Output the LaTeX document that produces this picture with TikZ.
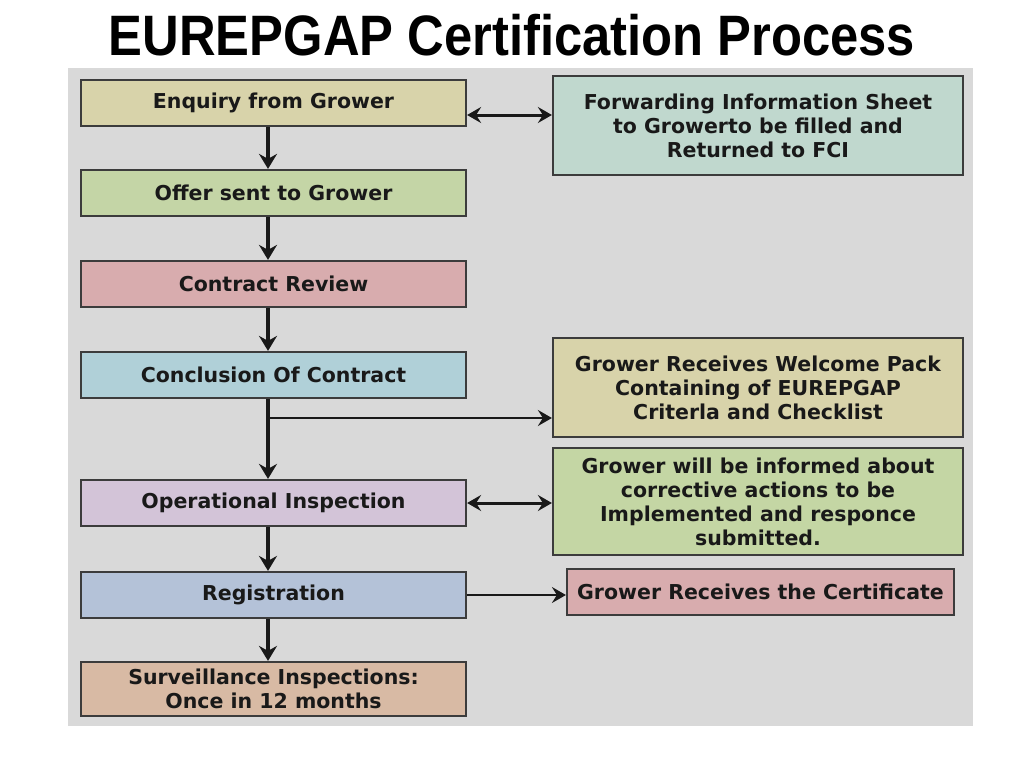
\documentclass[tikz,border=0pt]{standalone}
\usepackage{fontspec}
\setmainfont{DejaVu Sans}
\newfontfamily\titlefont{Liberation Sans}
\usetikzlibrary{arrows.meta}
\definecolor{bgc}{RGB}{217,217,217}
\definecolor{bordc}{RGB}{60,60,60}
\definecolor{cTan}{RGB}{216,211,170}
\definecolor{cTeal}{RGB}{192,216,206}
\definecolor{cGreen}{RGB}{196,213,166}
\definecolor{cPink}{RGB}{216,172,174}
\definecolor{cBlue}{RGB}{176,208,216}
\definecolor{cLav}{RGB}{211,196,216}
\definecolor{cSlate}{RGB}{180,194,216}
\definecolor{cPeach}{RGB}{216,186,164}
\definecolor{cGreenB}{RGB}{196,214,164}
\definecolor{inkc}{RGB}{25,25,25}
\begin{document}
\begin{tikzpicture}[x=1pt,y=-1pt,
  box/.style={draw=bordc, line width=2.2pt, font=\bfseries\fontsize{20.5}{24}\selectfont, text=inkc, inner sep=0pt, align=center},
  lbox/.style={box, minimum width=385pt, minimum height=46pt},
  rbox/.style={box, minimum width=410pt},
  arr/.style={-{Stealth[length=15pt,width=18pt,inset=5pt]}, line width=3.2pt, draw=inkc},
  arrthin/.style={-{Stealth[length=14pt,width=16pt,inset=5pt]}, line width=2.6pt, draw=inkc},
  dbl/.style={{Stealth[length=14pt,width=16pt,inset=5pt]}-{Stealth[length=14pt,width=16pt,inset=5pt]}, line width=3pt, draw=inkc}]
\useasboundingbox (0,0) rectangle (1024,768);
\fill[bgc] (68,68) rectangle (973,726);
\node[anchor=base, inner sep=0pt, font=\titlefont\bfseries\fontsize{57}{60}\selectfont] (title) at (512,56) {\scalebox{0.89}[1]{EUREPGAP Certification Process}};
% left column
\node[lbox, fill=cTan] (enq) at (273.5,103) {Enquiry from Grower};
\node[lbox, fill=cGreen] (offer) at (273.5,193) {Offer sent to Grower};
\node[lbox, fill=cPink] (rev) at (273.5,284) {Contract Review};
\node[lbox, fill=cBlue] (conc) at (273.5,375) {Conclusion Of Contract};
\node[lbox, fill=cLav] (op) at (273.5,503) {Operational Inspection};
\node[lbox, fill=cSlate] (reg) at (273.5,595) {Registration};
\node[lbox, fill=cPeach, minimum height=54pt] (surv) at (273.5,689) {Surveillance Inspections:\\Once in 12 months};
% right column
\node[rbox, fill=cTeal, minimum height=99pt] (fwd) at (758,125.5) {Forwarding Information Sheet\\to Growerto be filled and\\Returned to FCI};
\node[rbox, fill=cTan, minimum height=99pt] (wel) at (758,387.5) {Grower Receives Welcome Pack\\Containing of EUREPGAP\\Criterla and Checklist};
\node[rbox, fill=cGreenB, minimum height=107pt] (inf) at (758,501.5) {Grower will be informed about\\corrective actions to be\\Implemented and responce\\submitted.};
\node[box, fill=cPink, minimum width=387pt, minimum height=46pt] (cert) at (760.5,592) {Grower Receives the Certificate};
% connectors
\coordinate (spine) at (268,0);
\draw[arr] (enq.south -| spine) -- (offer.north -| spine);
\draw[arr] (offer.south -| spine) -- (rev.north -| spine);
\draw[arr] (rev.south -| spine) -- (conc.north -| spine);
\draw[arr] (conc.south -| spine) -- (op.north -| spine);
\draw[arr] (op.south -| spine) -- (reg.north -| spine);
\draw[arr] (reg.south -| spine) -- (surv.north -| spine);
\draw[arrthin] ([yshift=-30.5pt]wel.west -| spine) -- ([yshift=-30.5pt]wel.west);
\draw[dbl] ([yshift=-12pt]enq.east) -- ([yshift=-12pt]enq.east -| fwd.west);
\draw[dbl] (op.east) -- (op.east -| inf.west);
\draw[arrthin, line width=1.8pt] (reg.east) -- (reg.east -| cert.west);
\end{tikzpicture}
\end{document}
